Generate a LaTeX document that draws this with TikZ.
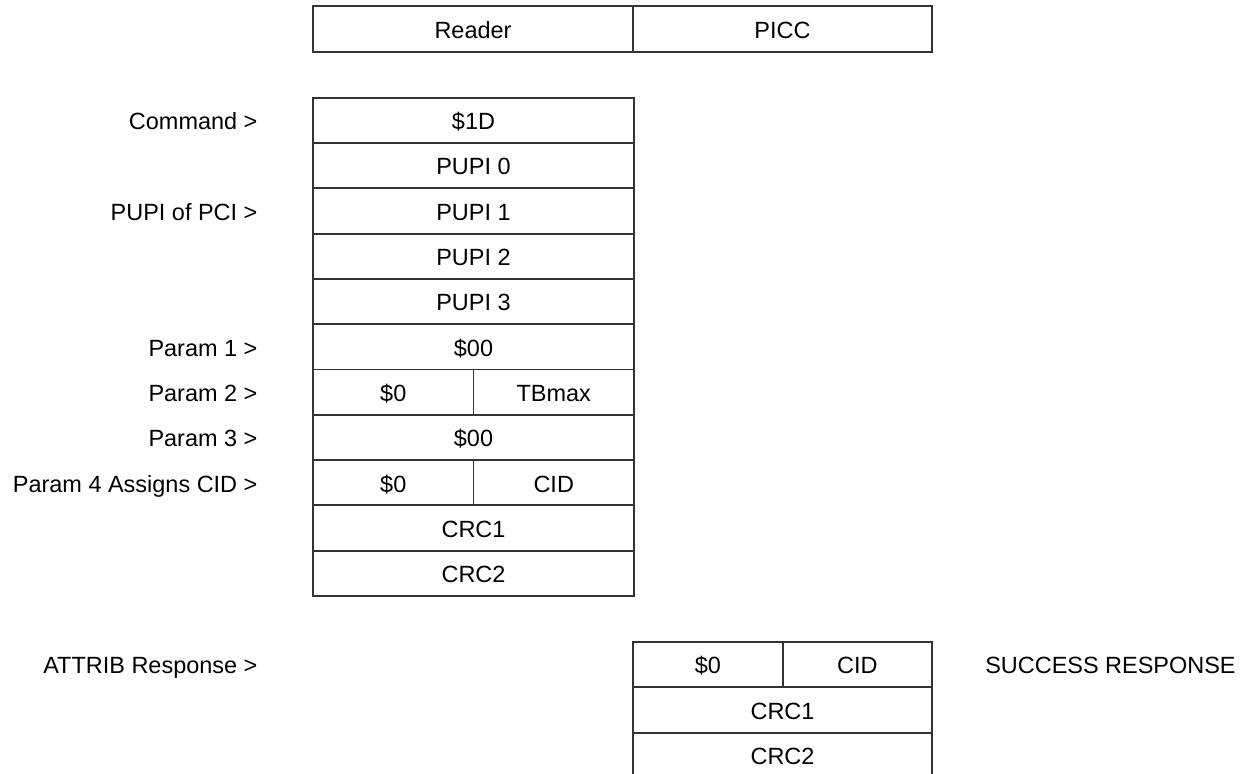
\documentclass[tikz,border=0pt]{standalone}
\usepackage{fontspec}
\setmainfont{Liberation Sans}
\usepackage{xcolor}
\usepackage{tikz}
\usetikzlibrary{positioning}
\definecolor{mydark}{RGB}{51,51,51}
\tikzset{
  cell/.style={rectangle, draw=mydark, line width=1.4pt,
    minimum width=240.75pt, minimum height=34pt,
    inner sep=0pt, outer sep=0pt, text height=15pt, text depth=1pt,
    font=\fontsize{17.6}{21}\selectfont},
  halfcell/.style={cell, minimum width=120.4pt},
  respcell/.style={cell, minimum width=224.25pt},
  resphalf/.style={cell, minimum width=112.1pt},
  lbl/.style={anchor=east, inner sep=0pt, text height=15pt, text depth=1pt,
    font=\fontsize{17.6}{21}\selectfont}
}

\begin{document}
\begin{tikzpicture}[x=0.75pt, y=-0.75pt]
  \useasboundingbox (0,0) rectangle (1253,774);

  % header
  \node[cell, minimum width=240pt] (reader) at (473,29) {Reader};
  \node[cell, minimum width=224.25pt, anchor=west] (picc) at (reader.east) {PICC};

  % ATTRIB command frame
  \foreach \r/\nm/\txt in {0/cmd/\$1D, 1/pupiA/PUPI 0, 2/pupiB/PUPI 1,
      3/pupiC/PUPI 2, 4/pupiD/PUPI 3, 5/parA/\$00, 7/parC/\$00,
      9/crcA/CRC1, 10/crcB/CRC2}
    \node[cell] (\nm) at (473.5,120.35+45.3*\r) {\txt};
  \node[halfcell] (parBl) at (393.25,120.35+45.3*6) {\$0};
  \node[halfcell] (parBr) at (553.75,120.35+45.3*6) {TBmax};
  \node[halfcell] (parDl) at (393.25,120.35+45.3*8) {\$0};
  \node[halfcell] (parDr) at (553.75,120.35+45.3*8) {CID};

  % row labels
  \node[lbl] (lcmd) at (257.7,120.35) {Command >};
  \node[lbl] (lpupi) at (257.7,120.35+45.3*2) {PUPI of PCI >};
  \node[lbl] (lparA) at (257.7,120.35+45.3*5) {Param 1 >};
  \node[lbl] (lparB) at (257.7,120.35+45.3*6) {Param 2 >};
  \node[lbl] (lparC) at (257.7,120.35+45.3*7) {Param 3 >};
  \node[lbl] (lparD) at (257.7,120.35+45.3*8) {Param 4 Assigns CID >};

  % response frame
  \node[resphalf] (resl) at (707.8,664.6) {\$0};
  \node[resphalf] (resr) at (857.3,664.6) {CID};
  \node[respcell] (rcrcA) at (782.5,664.6+45.3) {CRC1};
  \node[respcell] (rcrcB) at (782.5,664.6+45.3*2) {CRC2};
  \node[lbl] (lresp) at (257.7,664.6) {ATTRIB Response >};
  \node[lbl, anchor=west] (lok) at (985,664.6) {SUCCESS RESPONSE};
\end{tikzpicture}
\end{document}
